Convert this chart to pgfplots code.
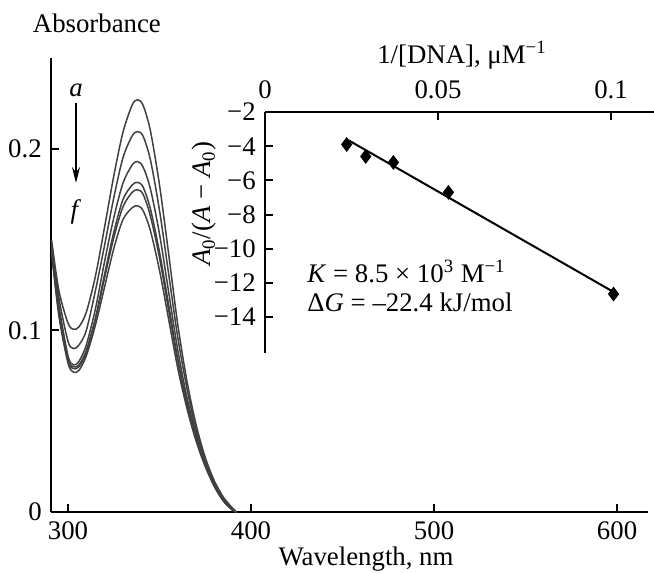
\documentclass[border=0pt]{standalone}
\usepackage{fontspec}
\setmainfont{Liberation Serif}
\usepackage{pgfplots}
\pgfplotsset{compat=1.18}
\usepackage{pgfplotstable}
\usetikzlibrary{arrows.meta}

% absorbance spectra, curves a..f
\pgfplotstableread{
lam a b c d e f
291 0.150 0.148 0.146 0.1445 0.144 0.143
295 0.122 0.118 0.114 0.111 0.110 0.108
300 0.104 0.094 0.086 0.084 0.083 0.082
303 0.1006 0.090 0.081 0.080 0.079 0.077
306 0.102 0.092 0.083 0.081 0.080 0.078
310 0.110 0.100 0.092 0.089 0.088 0.086
315 0.130 0.122 0.112 0.107 0.106 0.103
320 0.157 0.147 0.138 0.131 0.129 0.124
325 0.185 0.173 0.162 0.154 0.151 0.145
330 0.209 0.195 0.181 0.172 0.168 0.161
335 0.224 0.207 0.191 0.180 0.176 0.1675
338 0.227 0.2095 0.193 0.1815 0.1774 0.1686
341 0.224 0.207 0.190 0.179 0.175 0.166
345 0.210 0.194 0.178 0.167 0.163 0.155
350 0.180 0.166 0.153 0.143 0.140 0.133
355 0.142 0.131 0.121 0.114 0.111 0.106
360 0.103 0.096 0.089 0.084 0.083 0.079
365 0.072 0.068 0.063 0.060 0.059 0.057
370 0.048 0.045 0.043 0.041 0.040 0.039
375 0.030 0.029 0.027 0.026 0.026 0.025
380 0.017 0.016 0.015 0.015 0.014 0.014
385 0.008 0.007 0.007 0.006 0.006 0.006
390 0.002 0.002 0.0014 0.001 0.001 0.001
392 0.0 0.0 0.0 0.0 0.0 0.0
}\spectra

% inset: A0/(A-A0) vs 1/[DNA]
\pgfplotstableread{
x y
0.0236 -3.9
0.0291 -4.6
0.0371 -4.95
0.0530 -6.7
0.1007 -12.65
}\recip

\begin{document}
\fontsize{13.4}{15.5}\selectfont
\begin{tikzpicture}
\begin{axis}[
    name=main,
    at={(0,0)}, anchor=south west,
    scale only axis,
    width=298.5pt, height=227pt,
    xmin=290.7, xmax=616.9,
    ymin=0, ymax=0.25,
    axis lines=left,
    axis line style={-, line width=1.2pt},
    xtick={300,400,500,600},
    ytick={0,0.1,0.2},
    yticklabels={0,0.1,0.2},
    tick style={line width=1pt, black},
    major tick length=4pt,
    tick align=inside,
    /pgf/number format/assume math mode=true,
    clip=false,
]
    \foreach \c in {a,b,c,d,e,f} {
        \addplot[black!75, line width=0.75pt, smooth, tension=0.5] table[x=lam, y=\c] {\spectra};
    }
\end{axis}

\begin{axis}[
    name=inset,
    at={(107pt,79.5pt)}, anchor=south west,
    scale only axis,
    width=194.5pt, height=120.5pt,
    xmin=0, xmax=0.1124,
    ymin=-16.1, ymax=-2,
    axis x line=top, axis y line=left,
    axis line style={-, line width=1.2pt},
    xtick={0,0.05,0.1},
    xticklabels={0,0.05,0.1},
    scaled x ticks=false,
    xticklabel style={yshift=2pt},
    ytick={-14,-12,-10,-8,-6,-4,-2},
    yticklabels={−14,−12,−10,−8,−6,−4,−2},
    tick style={line width=1pt, black},
    major tick length=4pt,
    tick align=inside,
    /pgf/number format/assume math mode=true,
    clip=false,
]
    \addplot[only marks, mark=diamond*, mark size=3.4pt, black] table[x=x, y=y] {\recip};
    \addplot[black, line width=1pt] coordinates {(0.0241,-3.65) (0.1002,-12.47)};
\end{axis}

% labels
\node[anchor=base west, inner sep=0pt] at (-9.25pt,239.5pt) {Absorbance};
\node[anchor=base] at (157.5pt,-27pt) {Wavelength, nm};
\node[anchor=base] at (205.5pt,224pt) {1/[DNA], μM\textsuperscript{−1}};
\node[rotate=90] at (76.5pt,154pt) {\textit{A}\textsubscript{0}/(\textit{A} − \textit{A}\textsubscript{0})};
\node[anchor=base west, inner sep=0pt] at (128pt,114.5pt) {\textit{K} = 8.5 × 10\textsuperscript{3} M\textsuperscript{−1}};
\node[anchor=base west, inner sep=0pt] at (128pt,100pt) {Δ\textit{G} = –22.4 kJ/mol};
\node at (12.5pt,211pt) {\textit{a}};
\node at (12.5pt,150pt) {\textit{f}};
\draw[line width=0.8pt, -{Stealth[length=8pt,width=4pt]}] (12.5pt,204.5pt) -- (12.5pt,164.5pt);

\pgfresetboundingbox
\path[use as bounding box] (-25.5pt,-30.5pt) rectangle (301.5pt,256pt);
\end{tikzpicture}
\end{document}
